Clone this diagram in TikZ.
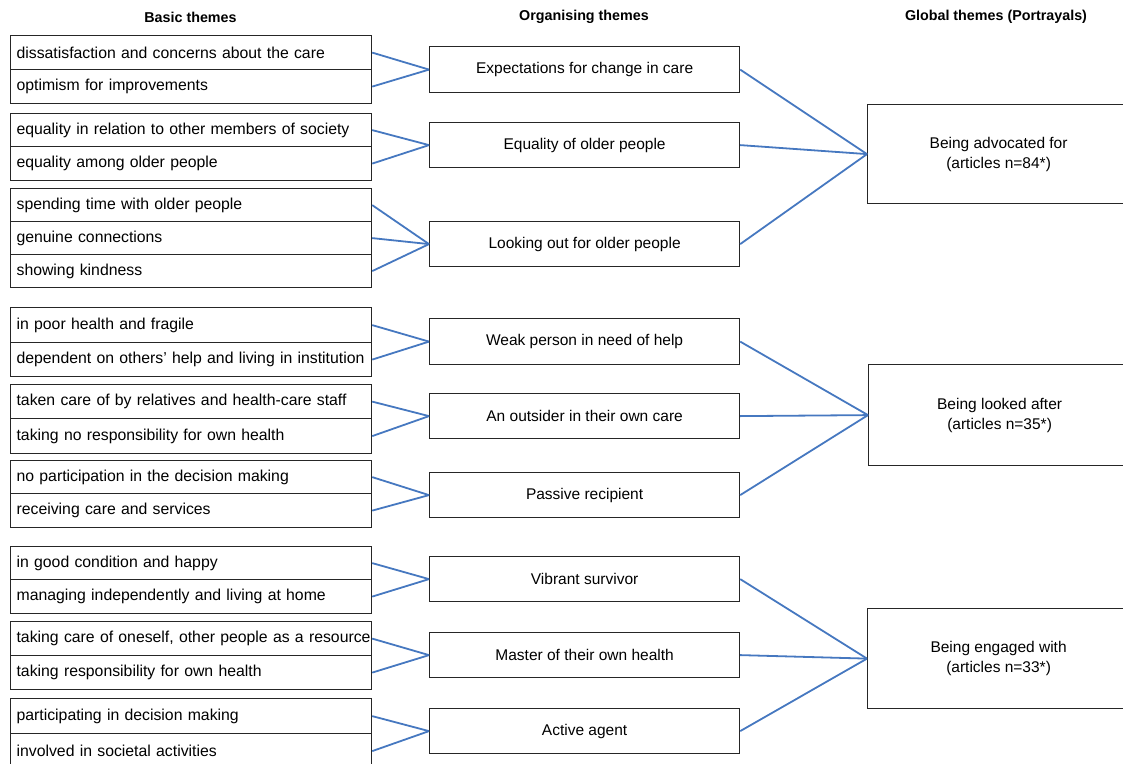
\documentclass[tikz,border=0pt]{standalone}
\usepackage{fontspec}
\setmainfont{Liberation Sans}
\usepackage{xcolor}
\usetikzlibrary{positioning}

\definecolor{linkblue}{RGB}{70,120,192}

\tikzset{
	cell/.style={draw=black!85,line width=1.2pt,anchor=north west,text width=349pt,inner xsep=6pt,inner ysep=0pt,align=left,font=\fontsize{15.8}{19}\selectfont},
	theme/.style={draw=black!85,line width=1.2pt,anchor=north west,minimum width=310pt,inner sep=0pt,font=\fontsize{15.5}{19}\selectfont},
	portrayal/.style={draw=black!85,line width=1.2pt,anchor=north west,minimum width=262pt,inner sep=0pt,align=center,font=\fontsize{15.5}{20}\selectfont},
	head/.style={font=\fontsize{14.3}{17}\selectfont\bfseries},
	link/.style={draw=linkblue,line width=1.8pt},
}

\begin{document}
\begin{tikzpicture}[x=1pt,y=-1pt]
	\useasboundingbox (0,0) rectangle (1123,763);
	\clip (0,0) rectangle (1123,763);

	% headings
	\node[head] (hb) at (190.5,17) {Basic themes};
	\node[head] (ho) at (584,17) {Organising themes};
	\node[head] (hg) at (996,17) {Global themes (Portrayals)};

	% basic themes
\node[cell,minimum height=34pt] (b1a) at (10,35) {dissatisfaction and concerns about the care};
\node[cell,minimum height=34pt] (b1b) at (10,69) {optimism for improvements};
\node[cell,minimum height=33pt] (b2a) at (10,113) {equality in relation to other members of society};
\node[cell,minimum height=34pt] (b2b) at (10,146) {equality among older people};
\node[cell,minimum height=33pt] (b3a) at (10,188) {spending time with older people};
\node[cell,minimum height=33pt] (b3b) at (10,221) {genuine connections};
\node[cell,minimum height=33pt] (b3c) at (10,254) {showing kindness};
\node[cell,minimum height=35pt] (b4a) at (10,307) {in poor health and fragile};
\node[cell,minimum height=34pt] (b4b) at (10,342) {dependent on others' help and living in institution};
\node[cell,minimum height=34pt] (b5a) at (10,384) {taken care of by relatives and health-care staff};
\node[cell,minimum height=35pt] (b5b) at (10,418) {taking no responsibility for own health};
\node[cell,minimum height=33pt] (b6a) at (10,460) {no participation in the decision making};
\node[cell,minimum height=34pt] (b6b) at (10,493) {receiving care and services};
\node[cell,minimum height=33pt] (b7a) at (10,546) {in good condition and happy};
\node[cell,minimum height=34pt] (b7b) at (10,579) {managing independently and living at home};
\node[cell,minimum height=34pt] (b8a) at (10,621) {\mbox{taking care of oneself, other people as a resource}};
\node[cell,minimum height=34pt] (b8b) at (10,655) {taking responsibility for own health};
\node[cell,minimum height=35pt] (b9a) at (10,698) {participating in decision making};
\node[cell,minimum height=35pt] (b9b) at (10,733) {involved in societal activities};

	% organising themes
\node[theme,minimum height=46pt] (o1) at (429,46) {Expectations for change in care};
\node[theme,minimum height=45pt] (o2) at (429,122) {Equality of older people};
\node[theme,minimum height=45pt] (o3) at (429,221) {Looking out for older people};
\node[theme,minimum height=46pt] (o4) at (429,318) {Weak person in need of help};
\node[theme,minimum height=45pt] (o5) at (429,393) {An outsider in their own care};
\node[theme,minimum height=45pt] (o6) at (429,472) {Passive recipient};
\node[theme,minimum height=45pt] (o7) at (429,556) {Vibrant survivor};
\node[theme,minimum height=45pt] (o8) at (429,632) {Master of their own health};
\node[theme,minimum height=45pt] (o9) at (429,708) {Active agent};

	% global themes
\node[portrayal,minimum height=99pt] (g1) at (867,104) {Being advocated for\\(articles n=84*)};
\node[portrayal,minimum height=101pt] (g2) at (868,364) {Being looked after\\(articles n=35*)};
\node[portrayal,minimum height=100pt] (g3) at (867,608) {Being engaged with\\(articles n=33*)};

	% links
\draw[link] (b1a.east) -- (o1.west);
\draw[link] (b1b.east) -- (o1.west);
\draw[link] (b2a.east) -- (o2.west);
\draw[link] (b2b.east) -- (o2.west);
\draw[link] (b3a.east) -- (o3.west);
\draw[link] (b3b.east) -- (o3.west);
\draw[link] (b3c.east) -- (o3.west);
\draw[link] (b4a.east) -- (o4.west);
\draw[link] (b4b.east) -- (o4.west);
\draw[link] (b5a.east) -- (o5.west);
\draw[link] (b5b.east) -- (o5.west);
\draw[link] (b6a.east) -- (o6.west);
\draw[link] (b6b.east) -- (o6.west);
\draw[link] (b7a.east) -- (o7.west);
\draw[link] (b7b.east) -- (o7.west);
\draw[link] (b8a.east) -- (o8.west);
\draw[link] (b8b.east) -- (o8.west);
\draw[link] (b9a.east) -- (o9.west);
\draw[link] (b9b.east) -- (o9.west);
\draw[link] (o1.east) -- (g1.west);
\draw[link] (o2.east) -- (g1.west);
\draw[link] (o3.east) -- (g1.west);
\draw[link] (o4.east) -- (g2.west);
\draw[link] (o5.east) -- (g2.west);
\draw[link] (o6.east) -- (g2.west);
\draw[link] (o7.east) -- (g3.west);
\draw[link] (o8.east) -- (g3.west);
\draw[link] (o9.east) -- (g3.west);

\end{tikzpicture}
\end{document}
